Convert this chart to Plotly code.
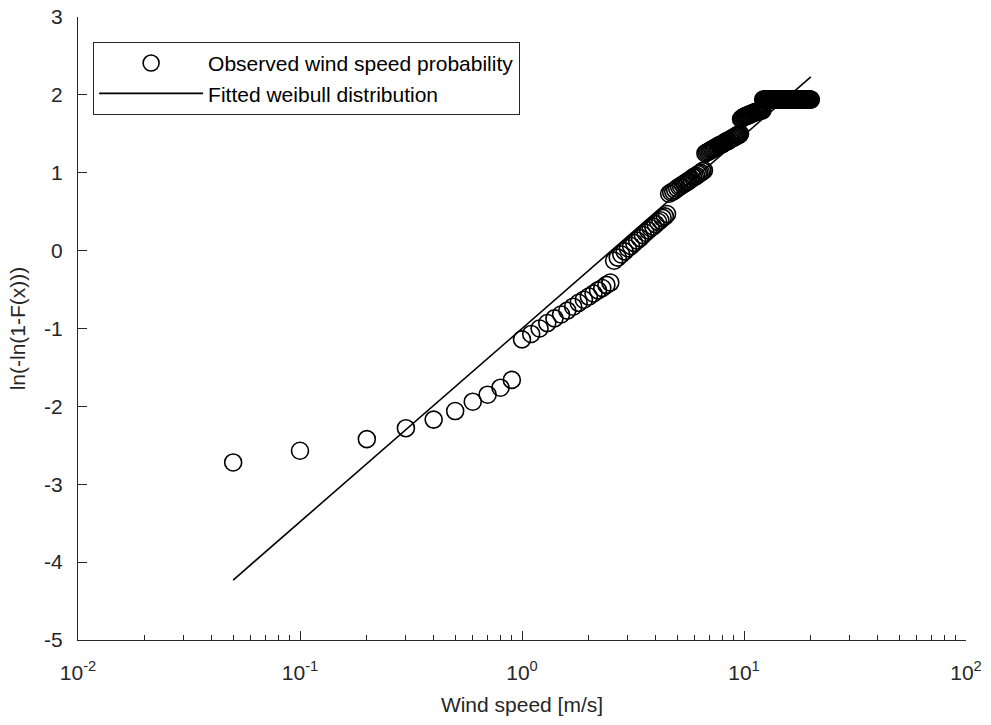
import plotly.graph_objects as go

# Observed wind speed probability (x: wind speed [m/s], y: ln(-ln(1-F(x))))
obs_x = [0.05, 0.1, 0.2, 0.3, 0.4, 0.5, 0.6, 0.7, 0.8, 0.9,
         1.0, 1.1, 1.2, 1.3, 1.4, 1.5, 1.6, 1.7, 1.8, 1.9, 2.0, 2.1, 2.2, 2.3, 2.4, 2.5,
         2.6, 2.7, 2.8, 2.9, 3.0, 3.1, 3.2, 3.3, 3.4, 3.5, 3.6, 3.7, 3.8, 3.9, 4.0, 4.1, 4.2, 4.3, 4.4, 4.5,
         4.6, 4.7, 4.8, 4.9, 5.0, 5.1, 5.2, 5.3, 5.4, 5.5, 5.6, 5.7, 5.8, 5.9, 6.0, 6.1, 6.2, 6.3, 6.4, 6.5, 6.6,
         6.7, 6.8, 6.9, 7.0, 7.1, 7.2, 7.3, 7.4, 7.5, 7.6, 7.7, 7.8, 7.9, 8.0, 8.1, 8.2, 8.3, 8.4, 8.5, 8.6,
         8.7, 8.8, 8.9, 9.0, 9.1, 9.2, 9.3, 9.4, 9.5, 9.6,
         9.7, 9.8, 9.9, 10.0, 10.1, 10.2, 10.3, 10.4, 10.5, 10.6, 10.7, 10.8, 10.9, 11.0, 11.1, 11.2, 11.3,
         11.4, 11.5, 11.6, 11.7, 11.8, 11.9, 12.0, 12.1,
         12.2, 12.3, 12.4, 12.5, 12.6, 12.7, 12.8, 12.9, 13.0, 13.1, 13.2, 13.3, 13.4, 13.5, 13.6, 13.7, 13.8,
         13.9, 14.0, 14.1, 14.2, 14.3, 14.4, 14.5, 14.6, 14.7, 14.8, 14.9, 15.0, 15.1, 15.2, 15.3, 15.4, 15.5,
         15.6, 15.7, 15.8, 15.9, 16.0, 16.1, 16.2, 16.3, 16.4, 16.5, 16.6, 16.7, 16.8, 16.9, 17.0, 17.1, 17.2,
         17.3, 17.4, 17.5, 17.6, 17.7, 17.8, 17.9, 18.0, 18.1, 18.2, 18.3, 18.4, 18.5, 18.6, 18.7, 18.8, 18.9,
         19.0, 19.1, 19.2, 19.3, 19.4, 19.5, 19.6, 19.7, 19.8, 19.9, 20.0]

obs_y = [-2.72, -2.57, -2.42, -2.28, -2.17, -2.06, -1.94, -1.85, -1.76, -1.66,
         -1.14, -1.07, -1.00, -0.93, -0.87, -0.82, -0.77, -0.72, -0.67, -0.63, -0.59, -0.55, -0.51, -0.48, -0.44, -0.41,
         -0.13, -0.09, -0.05, -0.01, 0.03, 0.06, 0.10, 0.13, 0.16, 0.20, 0.23, 0.26, 0.29, 0.31, 0.34, 0.37, 0.39, 0.42, 0.44, 0.47,
         0.73, 0.75, 0.76, 0.78, 0.80, 0.82, 0.83, 0.85, 0.86, 0.88, 0.89, 0.91, 0.92, 0.94, 0.95, 0.96, 0.98, 0.99, 1.00, 1.02, 1.03,
         1.25, 1.26, 1.27, 1.28, 1.29, 1.30, 1.31, 1.32, 1.33, 1.34, 1.35, 1.36, 1.36, 1.37, 1.38, 1.39, 1.40, 1.41, 1.41, 1.42,
         1.43, 1.44, 1.45, 1.45, 1.46, 1.47, 1.48, 1.48, 1.49, 1.50,
         1.69, 1.70, 1.71, 1.72, 1.72, 1.73, 1.73, 1.74, 1.74, 1.75, 1.75, 1.76, 1.76, 1.77, 1.77, 1.78, 1.78,
         1.78, 1.79, 1.79, 1.79, 1.80, 1.80, 1.80, 1.80,
         1.94, 1.94, 1.94, 1.94, 1.94, 1.94, 1.94, 1.94, 1.94, 1.94, 1.94, 1.94, 1.94, 1.94, 1.94, 1.94, 1.94,
         1.94, 1.94, 1.94, 1.94, 1.94, 1.94, 1.94, 1.94, 1.94, 1.94, 1.94, 1.94, 1.94, 1.94, 1.94, 1.94, 1.94,
         1.94, 1.94, 1.94, 1.94, 1.94, 1.94, 1.94, 1.94, 1.94, 1.94, 1.94, 1.94, 1.94, 1.94, 1.94, 1.94, 1.94,
         1.94, 1.94, 1.94, 1.94, 1.94, 1.94, 1.94, 1.94, 1.94, 1.94, 1.94, 1.94, 1.94, 1.94, 1.94, 1.94, 1.94,
         1.94, 1.94, 1.94, 1.94, 1.94, 1.94, 1.94, 1.94, 1.94, 1.94, 1.94]

# Fitted Weibull distribution (straight line on these axes)
fit_x = [0.05, 20.0]
fit_y = [-4.23, 2.23]

x_tickvals = [0.01, 0.1, 1, 10, 100]
x_ticktext = ["10<sup>-2</sup>", "10<sup>-1</sup>", "10<sup>0</sup>", "10<sup>1</sup>", "10<sup>2</sup>"]
y_tickvals = [-5, -4, -3, -2, -1, 0, 1, 2, 3]
y_ticktext = ["-5", "-4", "-3", "-2", "-1", "0", "1", "2", "3"]

INK = "#262626"
FONT = "Liberation Sans, Arial, Helvetica, sans-serif"
FS = 21

fig = go.Figure()
fig.add_trace(go.Scatter(
    x=obs_x, y=obs_y, mode="markers", name="Observed wind speed probability",
    marker=dict(symbol="circle-open", size=17, color="black", line=dict(width=1.6, color="black")),
))
fig.add_trace(go.Scatter(
    x=fit_x, y=fit_y, mode="lines", name="Fitted weibull distribution",
    line=dict(color="black", width=1.6),
))

fig.update_layout(
    width=991, height=725,
    margin=dict(l=78, r=25, t=17, b=85),
    paper_bgcolor="white", plot_bgcolor="white",
    font=dict(family=FONT, size=FS, color=INK),
    showlegend=True,
    legend=dict(
        x=0.017, y=0.96, xanchor="left", yanchor="top",
        bgcolor="white", bordercolor=INK, borderwidth=1,
        font=dict(family=FONT, size=FS, color="black"),
        itemwidth=104, tracegroupgap=0,
    ),
)
fig.update_xaxes(
    type="log", range=[-2, 2], automargin=False,
    tickmode="array", tickvals=x_tickvals, ticktext=x_ticktext,
    ticks="inside", ticklen=9, tickwidth=1, tickcolor=INK,
    minor=dict(ticks="inside", ticklen=5, tickwidth=1, tickcolor=INK, dtick="D1", showgrid=False),
    showline=True, linecolor=INK, linewidth=1, mirror=False,
    showgrid=False, zeroline=False,
    ticklabelstandoff=14,
    tickfont=dict(family=FONT, size=FS, color=INK),
    title=dict(text="Wind speed [m/s]", font=dict(family=FONT, size=FS, color=INK), standoff=14),
)
fig.update_yaxes(
    range=[-5, 3], automargin=False,
    tickmode="array", tickvals=y_tickvals, ticktext=y_ticktext,
    ticks="inside", ticklen=9, tickwidth=1, tickcolor=INK,
    showline=True, linecolor=INK, linewidth=1, mirror=False,
    showgrid=False, zeroline=False,
    ticklabelstandoff=10,
    tickfont=dict(family=FONT, size=FS, color=INK),
    title=dict(text="ln(-ln(1-F(x)))", font=dict(family=FONT, size=FS, color=INK), standoff=12),
)

fig.write_html("out.html")
